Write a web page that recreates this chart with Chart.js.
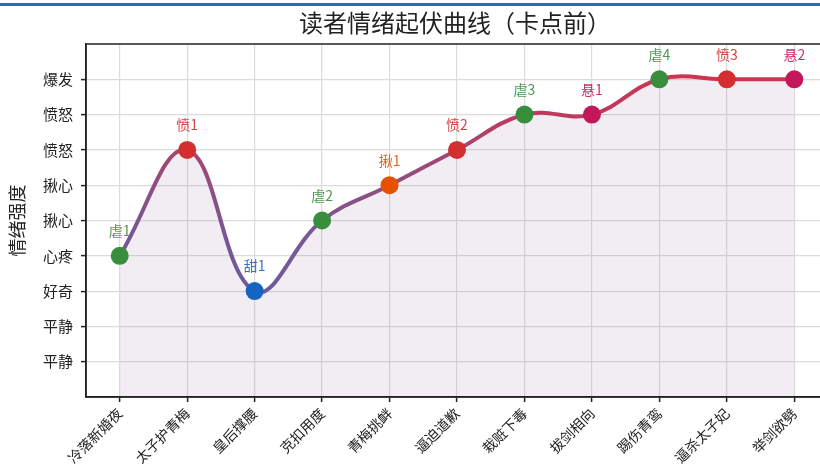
<!DOCTYPE html>
<html><head><meta charset="utf-8">
<script src="https://cdn.jsdelivr.net/npm/chart.js@4/dist/chart.umd.min.js"></script>
<style>
html,body{margin:0;padding:0;background:#fff;overflow:hidden;width:820px;height:464px;}
#bar{position:absolute;left:0;top:3px;width:820px;height:3px;background:#1f6fc6;}
#title{position:absolute;top:6px;left:0;width:910px;text-align:center;font-family:"Noto Sans CJK SC",sans-serif;font-size:24px;color:#222;line-height:32px;}
#wrap{position:absolute;left:0;top:0;width:837px;height:464px;}
</style></head>
<body>
<div id="wrap"><canvas id="c" width="837" height="464"></canvas></div>
<div id="bar"></div>
<div id="title">读者情绪起伏曲线（卡点前）</div>
<script>
const categories = ['冷落新婚夜','太子护青梅','皇后撑腰','克扣用度','青梅挑衅','逼迫道歉','栽赃下毒','拔剑相向','踢伤青鸾','逼杀太子妃','举剑欲劈'];
const intensity = [4, 7, 3, 5, 6, 7, 8, 8, 9, 9, 9];
const pointTags = ['虐1','愤1','甜1','虐2','揪1','愤2','虐3','悬1','虐4','愤3','悬2'];
const yTickLabels = ['平静','平静','好奇','心疼','揪心','揪心','愤怒','愤怒','爆发']; // values 1..9
const tagColors = {'虐':'#388e3c','愤':'#d32f2f','甜':'#1565c0','揪':'#e65100','悬':'#c2185b'};
const FONT = '"Noto Sans CJK SC", sans-serif';

const colorOf = t => tagColors[t.charAt(0)];

const lineGradient = (ctx) => {
  const chart = ctx.chart;
  const {chartArea, scales} = chart;
  if (!chartArea) return '#9c4a80';
  const y3 = scales.y.getPixelForValue(3), y9 = scales.y.getPixelForValue(9);
  const g = chart.ctx.createLinearGradient(0, y3, 0, y9);
  g.addColorStop(0, '#6c5b9b');
  g.addColorStop(1/3, '#7d5590');
  g.addColorStop(2/3, '#a5466f');
  g.addColorStop(5/6, '#c0395e');
  g.addColorStop(1, '#cd3450');
  return g;
};

const labelPlugin = {
  id: 'pointTags',
  afterDatasetsDraw(chart) {
    const meta = chart.getDatasetMeta(0);
    const c = chart.ctx;
    c.save();
    c.font = '14px ' + FONT;
    c.textAlign = 'center';
    c.textBaseline = 'middle';
    meta.data.forEach((el, i) => {
      c.fillStyle = colorOf(pointTags[i]);
      c.globalAlpha = 0.9;
      c.fillText(pointTags[i], el.x, el.y - 25);
    });
    c.restore();
  }
};
const framePlugin = {
  id: 'frame',
  afterDraw(chart) {
    const {left, top, right, bottom} = chart.chartArea;
    const c = chart.ctx;
    c.save();
    c.strokeStyle = '#222';
    c.lineWidth = 1.5;
    c.strokeRect(left, top, right - left, bottom - top);
    c.restore();
  }
};

new Chart(document.getElementById('c'), {
  type: 'line',
  data: {
    labels: categories,
    datasets: [{
      data: intensity,
      borderColor: lineGradient,
      borderWidth: 4,
      tension: 0.4,
      fill: 'origin',
      backgroundColor: 'rgba(110,60,110,0.09)',
      pointRadius: 9,
      pointHoverRadius: 9,
      pointBorderWidth: 0,
      pointBackgroundColor: pointTags.map(colorOf),
      pointBorderColor: pointTags.map(colorOf)
    }]
  },
  options: {
    responsive: false,
    devicePixelRatio: 1,
    animation: false,
    layout: {padding: {top: 44, right: 8, left: 0, bottom: 0}},
    plugins: {legend: {display: false}, tooltip: {enabled: false}, title: {display: false}},
    scales: {
      x: {
        type: 'category',
        offset: true,
        grid: {offset: false, color: '#dcdcdc', lineWidth: 1.2, tickColor: '#222', tickLength: 5, tickWidth: 1.5},
        border: {display: true, color: '#222', width: 1.5},
        ticks: {minRotation: 45, maxRotation: 45, padding: 3, color: '#222', font: {family: FONT, size: 14}, autoSkip: false},
        afterFit: s => { s.height = 67; }
      },
      y: {
        min: 0, max: 10,
        grid: {color: '#dcdcdc', lineWidth: 1.2, tickColor: '#222', tickLength: 5, tickWidth: 1.5},
        border: {display: true, color: '#222', width: 1.5},
        afterBuildTicks: s => { s.ticks = s.ticks.filter(t => t.value >= 1 && t.value <= 9); },
        ticks: {stepSize: 1, padding: 8, color: '#222', font: {family: FONT, size: 15},
          callback: v => yTickLabels[v - 1] ?? ''},
        title: {display: true, text: '情绪强度', color: '#222', font: {family: FONT, size: 18}, padding: {top: 6, bottom: 0}},
        afterFit: s => { s.width = 86; }
      }
    }
  },
  plugins: [labelPlugin, framePlugin]
});
</script>
</body></html>
